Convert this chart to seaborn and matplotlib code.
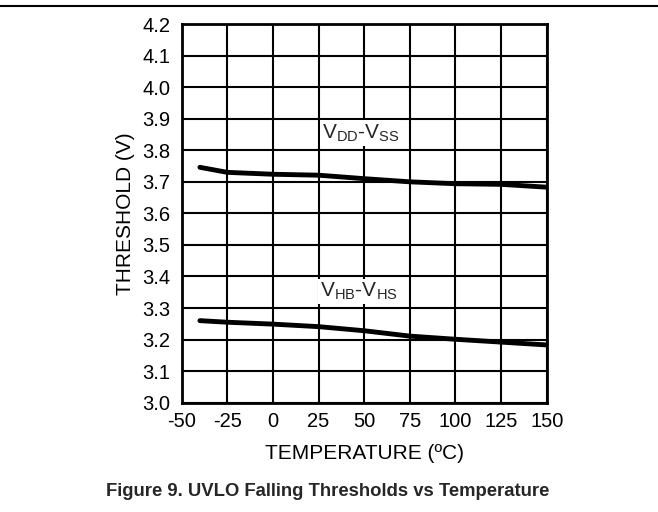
import matplotlib
matplotlib.use("Agg")
import matplotlib.pyplot as plt
import seaborn as sns
import pandas as pd

temps = [-40, -25, 0, 25, 50, 75, 100, 125, 150]
vdd_vss = [3.746, 3.730, 3.724, 3.721, 3.710, 3.700, 3.694, 3.692, 3.683]
vhb_vhs = [3.260, 3.255, 3.249, 3.241, 3.228, 3.211, 3.201, 3.192, 3.183]
xticks = [-50, -25, 0, 25, 50, 75, 100, 125, 150]
yticks = [3.0, 3.1, 3.2, 3.3, 3.4, 3.5, 3.6, 3.7, 3.8, 3.9, 4.0, 4.1, 4.2]

sns.set_theme(style="white")
plt.rcParams['font.family'] = ['Liberation Sans', 'DejaVu Sans']
plt.rcParams['mathtext.fontset'] = 'custom'
plt.rcParams['mathtext.rm'] = 'Liberation Sans'
plt.rcParams['mathtext.it'] = 'Liberation Sans'

df = pd.concat([
    pd.DataFrame({"T": temps, "V": vdd_vss, "s": "vdd"}),
    pd.DataFrame({"T": temps, "V": vhb_vhs, "s": "vhb"}),
])

fig = plt.figure(figsize=(6.58, 5.12), dpi=100)
ax = fig.add_axes([0.2761, 0.2135, 0.5548, 0.7395])
sns.lineplot(data=df, x="T", y="V", units="s", estimator=None, color="black",
             linewidth=3.5, ax=ax, zorder=3, legend=False)

ax.set_xlim(-50, 150)
ax.set_ylim(3.0, 4.2)
ax.set_xticks(xticks)
ax.set_xticklabels([str(v) for v in xticks])
ax.set_yticks(yticks)
ax.set_yticklabels([f"{v:.1f}" for v in yticks])
ax.grid(True, color="black", linewidth=1.5)
for sp in ax.spines.values():
    sp.set_color("black")
    sp.set_linewidth(2)
ax.tick_params(axis="both", labelsize=14.5, length=0, colors="black")
ax.tick_params(axis="x", pad=7)
ax.tick_params(axis="y", pad=8)
ax.set_xlabel("TEMPERATURE (ºC)", fontsize=15, color="black", va="center")
ax.set_ylabel("THRESHOLD (V)", fontsize=15, color="black", va="center")
ax.xaxis.set_label_coords(0.5, -0.1355)
ax.yaxis.set_label_coords(-0.1526, 0.5)

ax.text(48, 3.855, r"$\mathrm{V_{DD}}$-$\mathrm{V_{SS}}$", fontsize=15, ha="center", va="center",
        bbox=dict(facecolor="white", edgecolor="none", pad=1.5), zorder=4)
ax.text(47, 3.352, r"$\mathrm{V_{HB}}$-$\mathrm{V_{HS}}$", fontsize=15, ha="center", va="center",
        bbox=dict(facecolor="white", edgecolor="none", pad=1.5), zorder=4)

fig.add_artist(plt.Line2D([0, 1], [1 - 6 / 512, 1 - 6 / 512], color="black", linewidth=1.5))
fig.text(327.5 / 658, 1 - 491 / 512, "Figure 9. UVLO Falling Thresholds vs Temperature",
         fontsize=13.3, fontweight="bold", ha="center", va="center")

fig.savefig("out.png", dpi=100)
